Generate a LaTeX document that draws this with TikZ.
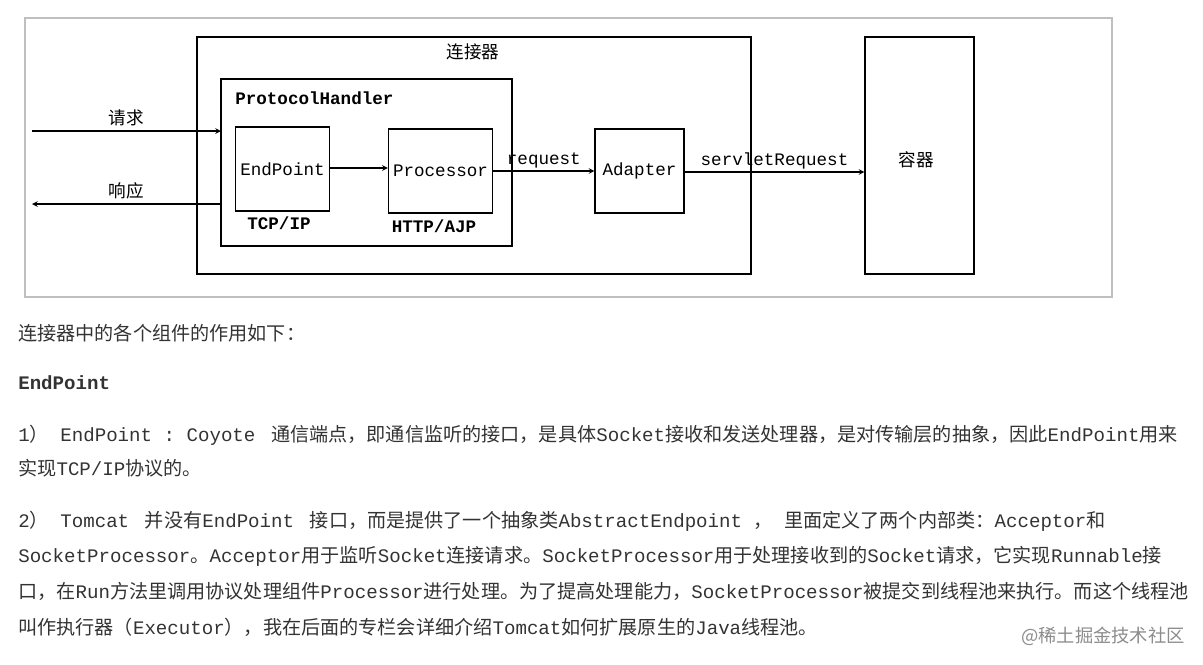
\documentclass[tikz,border=0pt]{standalone}
\usepackage{fontspec}
\setmainfont{Noto Sans CJK SC}
\setmonofont{Liberation Mono}
\newcommand\mo[1]{{\ttfamily #1}}
\begin{document}
\begin{tikzpicture}[x=0.025cm,y=-0.025cm,
  box/.style={draw,line width=0.8pt},
  arr/.style={-stealth,line width=0.8pt},
  dg/.style={font=\fontsize{12.5}{14}\selectfont},
  para/.style={anchor=west,inner sep=0pt,text=black!80,font=\fontsize{13.6}{15}\selectfont}]
\useasboundingbox[fill=white] (0,0) rectangle (1203,664);
\draw[black!25,line width=0.8pt] (25,18) rectangle (1112,297);
\draw[box] (197,37) rectangle (751,274);
\node[dg] (lj) at (473,52) {连接器};
\draw[box] (221,79) rectangle (512,246);
\node[dg,anchor=west,inner sep=0pt] (ph) at (235,98) {\ttfamily\bfseries ProtocolHandler};
\node[box,minimum width=91*0.025cm,minimum height=84*0.025cm,dg] (ep) at (282.5,169) {\mo{EndPoint}};
\node[dg] (tcp) at (279,223) {\ttfamily\bfseries TCP/IP};
\node[box,minimum width=103*0.025cm,minimum height=84*0.025cm,dg] (pr) at (440.5,171) {\mo{Processor}};
\node[dg] (http) at (434,226) {\ttfamily\bfseries HTTP/AJP};
\node[box,minimum width=89*0.025cm,minimum height=84*0.025cm,dg] (ad) at (639.5,171) {\mo{Adapter}};
\node[box,minimum width=109*0.025cm,minimum height=237*0.025cm,dg] (rq) at (919.5,155.5) {};
\node[dg] at (916,160) {容器};
\coordinate (inL) at (32,131); \coordinate (inR) at (221,131);
\coordinate (outL) at (32,204); \coordinate (outR) at (221,204);
\draw[arr] (inL) -- node[dg,above] {请求} (inR);
\draw[arr] (outR) -- node[dg,above] {响应} (outL);
\draw[arr] (ep.east|-0,168) -- (pr.west|-0,168);
\draw[arr] (pr.east|-0,171) -- node[dg,above,yshift=-2pt] {\mo{request}} (ad.west|-0,171);
\draw[arr] (ad.east|-0,172) -- node[dg,above,yshift=-2pt] {\mo{servletRequest}} (rq.west|-0,172);
\node[para] (t0) at (18,333) {连接器中的各个组件的作用如下：};
\node[para] (t1) at (18,383) {\ttfamily\bfseries EndPoint};
\node[para] (t2) at (18,435) {\mo{1}）\mo{ EndPoint  :  Coyote } 通信端点，即通信监听的接口，是具体\mo{Socket}接收和发送处理器，是对传输层的抽象，因此\mo{EndPoint}用来};
\node[para] (t3) at (18,468) {实现\mo{TCP/IP}协议的。};
\node[para] (t4) at (18,521) {\mo{2}）\mo{ Tomcat } 并没有\mo{EndPoint } 接口，而是提供了一个抽象类\mo{AbstractEndpoint  }，\mo{  }里面定义了两个内部类：\mo{Acceptor}和};
\node[para] (t5) at (18,556) {\mo{SocketProcessor}。\mo{Acceptor}用于监听\mo{Socket}连接请求。\mo{SocketProcessor}用于处理接收到的\mo{Socket}请求，它实现\mo{Runnable}接};
\node[para] (t6) at (18,591) {口，在\mo{Run}方法里调用协议处理组件\mo{Processor}进行处理。为了提高处理能力，\mo{SocketProcessor}被提交到线程池来执行。而这个线程池};
\node[para] (t7) at (18,627) {叫作执行器（\mo{Executor}），我在后面的专栏会详细介绍\mo{Tomcat}如何扩展原生的\mo{Java}线程池。};
\node[anchor=east,inner sep=0pt,text=black!45,font=\fontsize{13}{15}\selectfont] (wm) at (1185,636) {@稀土掘金技术社区};
\end{tikzpicture}
\end{document}
